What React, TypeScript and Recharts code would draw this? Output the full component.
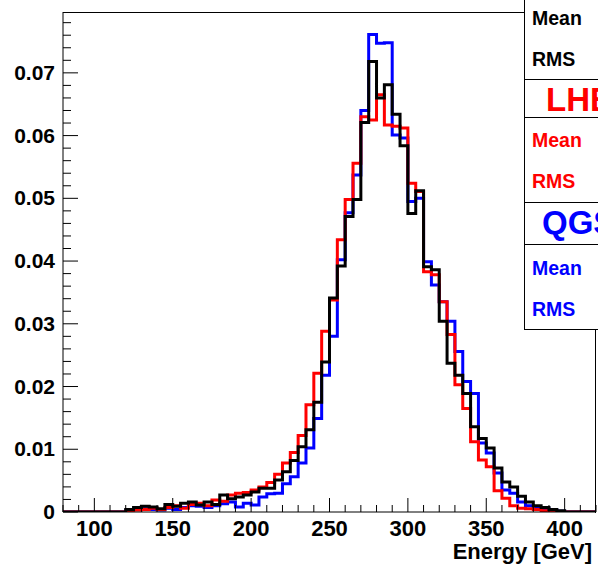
import { ComposedChart, Line, XAxis, YAxis } from 'recharts';

// bin edges [GeV], 5 GeV bins
const edges = [
  80, 85, 90, 95, 100, 105, 110, 115, 120, 125, 130, 135, 140, 145, 150, 155, 160, 165, 170, 175,
  180, 185, 190, 195, 200, 205, 210, 215, 220, 225, 230, 235, 240, 245, 250, 255, 260, 265, 270, 275,
  280, 285, 290, 295, 300, 305, 310, 315, 320, 325, 330, 335, 340, 345, 350, 355, 360, 365, 370, 375,
  380, 385, 390, 395, 400, 405, 410, 415, 420,
];

const blackVals = [
  0, 0, 0, 0, 0, 0, 0, 0,
  0.0004, 0.0007, 0.0009, 0.0008, 0.0005, 0.0012, 0.0009, 0.0014, 0.0016, 0.0011, 0.0016, 0.0012,
  0.0027, 0.0021, 0.0024, 0.0027, 0.0032, 0.0038, 0.0038, 0.0051, 0.0064, 0.0082, 0.0104, 0.0131,
  0.0175, 0.0239, 0.0341, 0.0392, 0.0471, 0.0498, 0.0621, 0.0718, 0.066, 0.0681, 0.0634, 0.0584,
  0.0476, 0.0512, 0.0391, 0.0386, 0.0304, 0.0237, 0.0218, 0.0189, 0.0136, 0.0117, 0.0102, 0.007,
  0.0048, 0.004, 0.0025, 0.0016, 0.001, 0.0007, 0.0004, 0.0002,
  0, 0, 0, 0,
];

const redVals = [
  0, 0, 0, 0, 0, 0, 0, 0,
  0.0001, 0.0003, 0.0004, 0.0006, 0.0004, 0.0007, 0.001, 0.0006, 0.0012, 0.0014, 0.001, 0.0019,
  0.0017, 0.0027, 0.003, 0.0031, 0.0035, 0.004, 0.0047, 0.006, 0.0078, 0.0095, 0.0122, 0.0171,
  0.0221, 0.0288, 0.0338, 0.0434, 0.0498, 0.0556, 0.063, 0.0625, 0.0665, 0.0617, 0.0615, 0.0612,
  0.0524, 0.0511, 0.0383, 0.0378, 0.0335, 0.0283, 0.0203, 0.0165, 0.0112, 0.0083, 0.0072, 0.0034,
  0.0022, 0.001, 0.0006, 0.0005, 0.0004, 0.0002, 0.0001, 0,
  0, 0, 0, 0,
];

const blueVals = [
  0, 0, 0, 0, 0, 0, 0, 0,
  0.0002, 0.0004, 0.0005, 0.0004, 0.0003, 0.0006, 0.0004, 0.0007, 0.001, 0.0009, 0.0007, 0.001,
  0.0013, 0.0016, 0.0008, 0.0014, 0.0011, 0.0024, 0.0029, 0.003, 0.0045, 0.0056, 0.0078, 0.0102,
  0.0149, 0.0218, 0.028, 0.0402, 0.0477, 0.0537, 0.064, 0.0761, 0.0747, 0.0748, 0.0601, 0.0596,
  0.0495, 0.05, 0.0399, 0.0362, 0.0335, 0.0304, 0.0256, 0.0208, 0.0189, 0.011, 0.0094, 0.0062,
  0.0035, 0.003, 0.0016, 0.001, 0.0006, 0.0005, 0.0003, 0.0001,
  0, 0, 0, 0,
];

const xTickVals = [
  80, 90, 100, 110, 120, 130, 140, 150, 160, 170, 180, 190, 200, 210, 220, 230, 240, 250,
  260, 270, 280, 290, 300, 310, 320, 330, 340, 350, 360, 370, 380, 390, 400, 410, 420,
];
const xMajor = [100, 150, 200, 250, 300, 350, 400];
const yMajor = [0, 0.01, 0.02, 0.03, 0.04, 0.05, 0.06, 0.07];
const yTickVals = Array.from({ length: 40 }, (_, k) => +(k * 0.002).toFixed(3));

const Y_MAX = 0.0797;
const FONT = '"Liberation Sans", Arial, Helvetica, sans-serif';

const data = edges.map((e, i) => {
  const k = Math.min(i, blackVals.length - 1);
  return { e, black: blackVals[k], red: redVals[k], blue: blueVals[k] };
});

const XTick = (props: any) => {
  const { x, y, payload } = props;
  const v = payload.value;
  const major = xMajor.includes(v);
  return (
    <g>
      <line x1={x} x2={x} y1={y} y2={y - (major ? 14 : 7)} stroke="#000" strokeWidth={1} />
      {major && (
        <text x={x} y={y + 24} textAnchor="middle" fontFamily={FONT} fontWeight="bold" fontSize={22} fill="#000">
          {v}
        </text>
      )}
    </g>
  );
};

const YTick = (props: any) => {
  const { x, y, payload } = props;
  const v = payload.value;
  const major = yMajor.some((m) => Math.abs(m - v) < 1e-6);
  return (
    <g>
      <line x1={x} x2={x + (major ? 15 : 8)} y1={y} y2={y} stroke="#000" strokeWidth={1} />
      {major && (
        <text x={x - 8} y={y + 7} textAnchor="end" fontFamily={FONT} fontWeight="bold" fontSize={21} fill="#000">
          {v === 0 ? '0' : v.toFixed(2)}
        </text>
      )}
    </g>
  );
};

const statText = (color: string, top: number, label: string) => (
  <div
    style={{
      position: 'absolute', left: 7, top, color, fontFamily: FONT, fontWeight: 'bold',
      fontSize: 19.5, lineHeight: '20px',
    }}
  >
    {label}
  </div>
);

const titleText = (color: string, left: number, top: number, label: string) => (
  <div
    style={{
      position: 'absolute', left, top, color, fontFamily: FONT, fontWeight: 'bold',
      fontSize: 33, lineHeight: '34px', whiteSpace: 'nowrap',
    }}
  >
    {label}
  </div>
);

const hLine = (top: number) => (
  <div style={{ position: 'absolute', left: 0, right: 0, top, borderTop: '1px solid #000' }} />
);

export default function App() {
  return (
    <div style={{ position: 'absolute', left: 0, top: 0, width: 598, height: 564, overflow: 'hidden', background: '#fff' }}>
      <ComposedChart width={598} height={564} data={data} margin={{ top: 12, right: 2, bottom: 0, left: 0 }}>
        <XAxis
          dataKey="e"
          type="number"
          domain={[80, 420]}
          ticks={xTickVals}
          interval={0}
          tickSize={0}
          tickMargin={0}
          height={52}
          tick={<XTick />}
          axisLine={{ stroke: '#000', strokeWidth: 1 }}
          allowDataOverflow
        />
        <YAxis
          type="number"
          domain={[0, Y_MAX]}
          ticks={yTickVals}
          interval={0}
          tickSize={0}
          tickMargin={0}
          width={63}
          tick={<YTick />}
          axisLine={{ stroke: '#000', strokeWidth: 1 }}
          allowDataOverflow
        />
        <Line type="stepAfter" dataKey="blue" stroke="#0000ff" strokeWidth={3} dot={false} isAnimationActive={false} />
        <Line type="stepAfter" dataKey="red" stroke="#ff0000" strokeWidth={3} dot={false} isAnimationActive={false} />
        <Line type="stepAfter" dataKey="black" stroke="#000000" strokeWidth={3} dot={false} isAnimationActive={false} />
      </ComposedChart>

      {/* frame top and right */}
      <div
        style={{
          position: 'absolute', left: 63, top: 12, width: 532, height: 500,
          borderTop: '1px solid #000', borderRight: '1px solid #000', pointerEvents: 'none',
        }}
      />

      <div
        style={{
          position: 'absolute', left: 592, top: 542, transform: 'translateX(-100%)', whiteSpace: 'nowrap',
          fontFamily: FONT, fontWeight: 'bold', fontSize: 22, lineHeight: '20px', color: '#000',
        }}
      >
        Energy [GeV]
      </div>

      {/* stat boxes */}
      <div
        style={{
          position: 'absolute', left: 524, top: -30, width: 120, height: 358,
          border: '1px solid #000', background: '#fff', overflow: 'hidden',
        }}
      >
        {statText('#000', 37, 'Mean')}
        {statText('#000', 78, 'RMS')}
        {hLine(108)}
        {titleText('#ff0000', 21, 112, 'LHEP')}
        {hLine(146)}
        {statText('#ff0000', 159, 'Mean')}
        {statText('#ff0000', 200, 'RMS')}
        {hLine(231)}
        {titleText('#0000ff', 17, 235, 'QGSP')}
        {hLine(273)}
        {statText('#0000ff', 287, 'Mean')}
        {statText('#0000ff', 328, 'RMS')}
      </div>
    </div>
  );
}
